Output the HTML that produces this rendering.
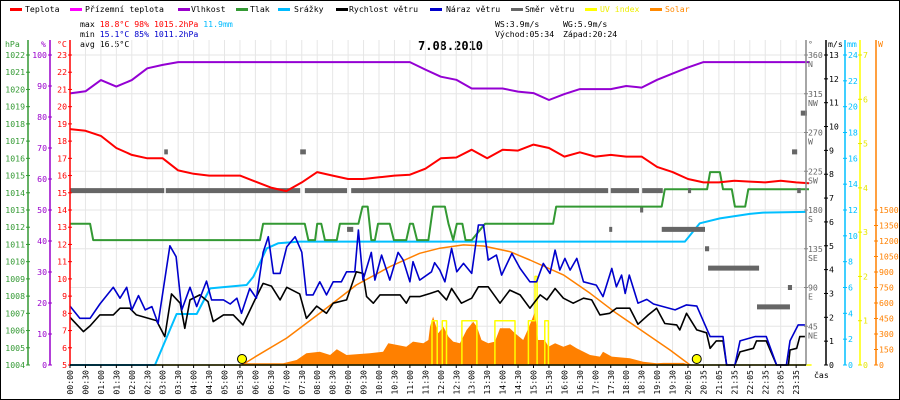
<!DOCTYPE html>
<html><head><meta charset="utf-8">
<style>
html,body{margin:0;padding:0;background:#fff;}
svg{display:block;font-family:"DejaVu Sans Mono","Liberation Mono",monospace;}
</style></head>
<body>
<svg id="chart" width="900" height="400" viewBox="0 0 900 400" xmlns="http://www.w3.org/2000/svg">
<rect x="0.5" y="0.5" width="899" height="399" fill="#fff" stroke="#000"/>
<g id="legend" font-size="8.2">
 <g><rect x="10" y="8" width="12" height="3" fill="#f00"/><text x="25" y="12">Teplota</text></g>
 <g><rect x="70" y="8" width="12" height="3" fill="#f0f"/><text x="85" y="12">Přízemní teplota</text></g>
 <g><rect x="178" y="8" width="12" height="3" fill="#90c"/><text x="191" y="12">Vlhkost</text></g>
 <g><rect x="236" y="8" width="12" height="3" fill="#393"/><text x="250" y="12">Tlak</text></g>
 <g><rect x="278" y="8" width="12" height="3" fill="#0bf"/><text x="294" y="12">Srážky</text></g>
 <g><rect x="336" y="8" width="12" height="3" fill="#000"/><text x="349" y="12">Rychlost větru</text></g>
 <g><rect x="430" y="8" width="12" height="3" fill="#00c"/><text x="446" y="12">Náraz větru</text></g>
 <g><rect x="511" y="8" width="12" height="3" fill="#666"/><text x="525" y="12">Směr větru</text></g>
 <g><rect x="585" y="8" width="12" height="3" fill="#ff0"/><text x="600" y="12" fill="#ee0">UV index</text></g>
 <g><rect x="650" y="8" width="12" height="3" fill="#f80"/><text x="665" y="12" fill="#f80">Solar</text></g>
</g>
<g id="stats" font-size="8.2">
 <text x="80" y="27">max <tspan fill="#f00">18.8°C  98%  1015.2hPa</tspan> <tspan fill="#0bf">11.9mm</tspan></text>
 <text x="80" y="37">min <tspan fill="#00c">15.1°C  85%  1011.2hPa</tspan></text>
 <text x="80" y="47">avg 16.5°C</text>
 <text x="495" y="27">WS:3.9m/s</text>
 <text x="563" y="27">WG:5.9m/s</text>
 <text x="495" y="37">Východ:05:34</text>
 <text x="563" y="37">Západ:20:24</text>
</g>
<text x="418" y="50" font-size="12" font-weight="bold">7.08.2010</text>
<g id="grid"></g>
<g id="marks"></g>
<g id="axes"></g>
</svg>
<script>
// ---- data ----
const tempVals=[18.7,18.6,18.3,17.6,17.2,17.0,17.0,16.3,16.1,16.0,16.0,16.0,15.65,15.3,15.1,15.6,16.2,16.0,15.8,15.8,15.9,16.0,16.05,16.4,17.0,17.05,17.5,17.0,17.5,17.45,17.8,17.6,17.1,17.35,17.1,17.2,17.1,17.1,16.5,16.2,15.8,15.6,15.6,15.7,15.65,15.6,15.7,15.6,15.55];
const humVals=[87.6,88.3,91.9,89.8,91.9,95.7,96.8,97.7,97.7,97.7,97.7,97.7,97.7,97.7,97.7,97.7,97.7,97.7,97.7,97.7,97.7,97.7,97.7,95.3,93,92,89.2,89.2,89.2,88.2,87.7,85.5,87.4,89,89,89,90,89.5,92,94,96,97.7,97.7,97.7,97.7,97.7,97.7,97.7,97.7];
const halfHourTimes=[0,30,60,90,120,150,180,210,240,270,300,330,360,390,420,450,480,510,540,570,600,630,660,690,720,750,780,810,840,870,900,930,960,990,1020,1050,1080,1110,1140,1170,1200,1230,1260,1290,1320,1350,1380,1410,1435];
const pressT=[0,39,45,369,375,456,463,476,480,488,495,518,524,560,568,578,585,592,598,621,629,653,660,666,674,696,705,728,735,744,751,762,768,780,806,938,944,1149,1155,1237,1243,1262,1268,1285,1291,1311,1317,1435];
const pressV=[1012.2,1012.2,1011.25,1011.25,1012.2,1012.2,1011.25,1011.25,1012.2,1012.2,1011.25,1011.25,1012.2,1012.2,1013.2,1013.2,1011.25,1011.25,1012.2,1012.2,1011.25,1011.25,1012.2,1012.2,1011.25,1011.25,1013.2,1013.2,1012.2,1011.25,1012.2,1012.2,1011.25,1011.25,1012.2,1012.2,1013.2,1013.2,1014.2,1014.2,1015.2,1015.2,1014.2,1014.2,1013.2,1013.2,1014.2,1014.2];
const rainT=[0,165,207,246,272,343,356,382,404,446,1194,1223,1262,1320,1346,1430];
const rainV=[0,0,3.95,3.95,5.93,6.19,6.83,9.03,9.42,9.55,9.55,10.97,11.35,11.7,11.8,11.85];
const gustT=[0,19,39,58,84,97,110,120,133,146,159,171,194,206,217,233,246,265,275,298,311,324,333,349,362,375,385,395,408,421,437,450,459,472,485,498,511,527,537,553,560,569,585,592,605,621,637,647,660,666,679,702,708,718,728,741,751,764,780,793,803,812,828,838,858,874,893,906,919,932,942,951,961,971,984,997,1022,1035,1052,1061,1071,1078,1086,1103,1120,1133,1175,1197,1217,1243,1268,1275,1291,1301,1330,1352,1372,1391,1398,1414,1427];
const gustV=[2.47,1.96,1.96,2.56,3.26,2.80,3.26,2.31,2.91,2.31,2.45,1.74,5.0,4.54,2.31,3.26,2.45,3.52,2.73,2.73,2.56,2.80,2.17,3.21,2.80,4.72,5.38,3.84,3.84,4.96,5.38,4.73,2.94,2.94,3.49,2.94,3.49,3.49,3.91,3.91,5.66,3.56,4.72,3.56,4.61,3.56,4.72,4.40,3.49,4.33,3.56,3.91,4.29,3.98,3.49,4.89,3.91,4.26,3.84,5.87,5.87,4.40,4.61,3.77,4.68,4.05,3.49,3.49,4.26,3.84,4.82,3.98,4.47,3.98,4.47,3.49,3.35,2.87,4.05,3.28,3.77,3.00,3.77,2.59,2.75,2.56,2.31,2.52,2.47,1.19,1.19,0,0,1.01,1.19,1.19,0,0,1.01,1.68,1.68];
const speedT=[0,26,39,58,84,97,116,129,168,184,197,214,223,233,252,268,278,298,317,336,359,375,391,408,421,446,459,479,498,511,537,556,569,576,589,602,641,653,660,679,699,715,731,741,760,780,793,812,835,854,874,893,913,926,942,958,977,997,1013,1029,1048,1061,1087,1103,1123,1139,1155,1178,1184,1197,1217,1236,1243,1255,1268,1275,1291,1301,1327,1333,1352,1372,1395,1398,1411,1417,1427];
const speedV=[2.0,1.40,1.64,2.10,2.10,2.38,2.38,2.10,1.86,1.19,2.98,2.59,1.54,2.73,2.94,2.66,1.82,2.10,2.10,1.68,2.73,3.42,3.31,2.73,3.26,2.98,1.96,2.47,2.17,2.59,2.73,3.91,3.84,2.87,2.59,2.94,2.94,2.59,2.87,2.87,3.00,3.11,2.73,3.21,2.59,2.80,3.28,3.28,2.59,3.14,2.94,2.38,2.94,2.73,3.21,2.80,2.59,2.80,2.73,2.10,2.17,2.38,2.38,1.71,2.10,2.38,1.74,1.68,1.47,2.17,1.47,1.35,0.70,1.01,1.01,0,0,0.55,0.70,1.01,1.01,0,0,0.63,0.70,1.19,1.19];
const dirStart=[0,183,186,447,456,538,546,1047,1050,1107,1111,1149,1233,1239,1334,1200,1394,1402,1412,1419];
const dirEnd=[183,190,447,458,538,550,1045,1052,1105,1113,1151,1233,1241,1338,1398,1206,1402,1412,1419,1431];
const dirDeg=[202.5,247.5,202.5,247.5,202.5,157.5,202.5,157.5,202.5,180,202.5,157.5,135,112.5,67.5,202.5,90,247.5,202.5,292.5];
const solarT=[340,414,440,459,485,505,518,537,582,608,618,653,666,686,696,699,705,715,725,735,744,757,770,783,790,799,812,825,835,854,864,880,890,903,909,922,929,942,958,971,984,1010,1029,1035,1052,1087,1113,1139,1152,1191,1204];
const solarW=[16,16,48,113,129,97,152,97,113,129,210,177,226,210,242,371,468,307,371,274,226,210,339,419,371,242,210,226,355,355,307,242,355,516,242,242,177,210,177,200,161,97,81,129,81,65,32,16,20,20,0];
const uvT=[0,703,713,723,731,761,790,825,864,890,903,907,922,929,1440];
const uvV=[0,1,0,1,0,1,0,1,0,1,2,0,1,0,0];
const sunT=[334,360,421,498,556,621,679,718,764,803,854,893,958,1010,1061,1113,1165,1204];
const sunW=[0,80,261,551,774,951,1081,1130,1162,1152,1097,1016,872,694,500,323,145,0];
const sunEvents=[334,1217];
const xLabels=["00:00","00:30","01:00","01:30","02:00","02:30","03:00","03:30","04:00","04:30","05:00","05:30","06:00","06:30","07:00","07:30","08:00","08:30","09:00","09:30","10:00","10:30","11:00","11:30","12:00","12:30","13:00","13:30","14:00","14:30","15:00","15:30","16:00","16:30","17:00","17:30","18:00","18:30","19:00","19:30","20:05","20:35","21:05","21:35","22:05","22:35","23:05","23:35"];
const hpaTicks=[1004,1005,1006,1007,1008,1009,1010,1011,1012,1013,1014,1015,1016,1017,1018,1019,1020,1021,1022];
const pctTicks=[0,10,20,30,40,50,60,70,80,90,100];
const cTicks=[5,6,7,8,9,10,11,12,13,14,15,16,17,18,19,20,21,22,23];
const degTicks=[45,90,135,180,225,270,315,360];
const degNames=["NE","E","SE","S","SW","W","NW","N"];
const msTicks=[0,1,2,3,4,5,6,7,8,9,10,11,12,13];
const mmTicks=[0,2,4,6,8,10,12,14,16,18,20,22,24];
const uvTicks=[0,1,2,3,4,5,6,7];
const wTicks=[0,150,300,450,600,750,900,1050,1200,1350,1500];

// ---- scales ----
const X0=70,X1=806,YT=55,YB=365;
const xT=t=>X0+t*0.515;
const yC=c=>YT+(23-c)*310/18;
const yH=h=>YT+(100-h)*3.1;
const yP=p=>YT+(1022-p)*310/18;
const yV=v=>YB-v*310/13;
const yMM=m=>YB-m*310/24;
const yUV=u=>YB-u*310/7;
const yW=w=>YB-w*155/1500;
const yD=d=>YB-d*310/360;

const NS="http://www.w3.org/2000/svg";
function mk(tag,attrs,parent){const e=document.createElementNS(NS,tag);for(const k in attrs)e.setAttribute(k,attrs[k]);parent.appendChild(e);return e;}
const grid=document.getElementById('grid'),marks=document.getElementById('marks'),axes=document.getElementById('axes');

// grid
for(let i=0;i<xLabels.length;i++){const x=X0+i*15.45;
 const l=mk('line',{x1:x,y1:40,x2:x,y2:YB,stroke:'#e6e6e6','stroke-width':1},grid);
 
 }
for(let i=0;i<=8;i++){const y=YT+i*310/8;
 const l=mk('line',{x1:X0,y1:y,x2:X1,y2:y,stroke:'#e6e6e6','stroke-width':1},grid);
 
 }

function poly(ts,vs,fx,fy,attrs,name){const pts=ts.map((t,i)=>fx(t).toFixed(1)+','+fy(vs[i]).toFixed(1)).join(' ');
 const p=mk('polyline',Object.assign({points:pts,fill:'none','stroke-linejoin':'round'},attrs),marks);
 
 return p;}
function stepPts(ts,vs){const t2=[],v2=[];for(let i=0;i<ts.length;i++){if(i>0){t2.push(ts[i]);v2.push(vs[i-1]);}t2.push(ts[i]);v2.push(vs[i]);}return [t2,v2];}

// solar area
{let d='M'+xT(solarT[0])+','+YB;solarT.forEach((t,i)=>{d+=' L'+xT(t).toFixed(1)+','+yW(solarW[i]).toFixed(1);});d+=' L'+xT(solarT[solarT.length-1])+','+YB+' Z';
 const a=mk('path',{d:d,fill:'#ff8000'},marks);
 
 }
// UV
{const [a,b]=stepPts(uvT,uvV);poly(a,b,xT,yUV,{stroke:'#ffff00','stroke-width':1.5},'uv-index-line');}
// sun curve
poly(sunT,sunW,xT,yW,{stroke:'#ff8000','stroke-width':1.5},'clear-sky-solar-curve');
// precip
poly(rainT,rainV,xT,yMM,{stroke:'#00bfff','stroke-width':2},'precipitation-line');
// pressure
poly(pressT,pressV,xT,yP,{stroke:'#339933','stroke-width':2},'pressure-line');
// wind direction
for(let i=0;i<dirDeg.length;i++){
 const r=mk('rect',{x:xT(dirStart[i]),y:yD(dirDeg[i])-2.5,width:Math.max(3,xT(dirEnd[i])-xT(dirStart[i])),height:5,fill:'#666'},marks);
 
 }
// humidity, temp
poly(halfHourTimes,humVals,xT,yH,{stroke:'#9400d3','stroke-width':2},'humidity-line');
poly(halfHourTimes,tempVals,xT,yC,{stroke:'#ff0000','stroke-width':2},'temperature-line');
// wind
poly(speedT,speedV,xT,yV,{stroke:'#000','stroke-width':1.6},'wind-speed-line');
poly(gustT,gustV,xT,yV,{stroke:'#0000cc','stroke-width':1.6},'wind-gust-line');
// sunrise/sunset markers
sunEvents.forEach((t,i)=>{const c=mk('circle',{cx:xT(t),cy:359,r:4.5,fill:'#ffff00',stroke:'#000','stroke-width':1},marks);
 
 });

// ---- axes ----
function vaxis(x,color,name){const l=mk('line',{x1:x,y1:40,x2:x,y2:YB,stroke:color,'stroke-width':1.5},axes);
 
 }
function txt(x,y,s,color,anchor,name){const t=mk('text',{x:x,y:y,fill:color,'font-size':8.2,'text-anchor':anchor||'start'},axes);t.textContent=s;
 
 return t;}
function ticks(x,vals,fy,color,side,name){vals.forEach(v=>{const y=fy(v);
 mk('line',{x1:x-2,y1:y,x2:x+2,y2:y,stroke:color,'stroke-width':1},axes);
 if(side==='l')txt(x-3,y+3,String(v),color,'end',name);else txt(x+3,y+3,String(v),color,'start',name);});}

vaxis(28,'#339933','hpa-axis');ticks(28,hpaTicks,yP,'#339933','l','hpa-tick-label');txt(5,47,'hPa','#339933','start','hpa-axis-title');
vaxis(50,'#9900cc','humidity-axis');ticks(50,pctTicks,yH,'#9900cc','l','humidity-tick-label');txt(41,47,'%','#9900cc','start','humidity-axis-title');
vaxis(70,'#ff0000','temperature-axis');ticks(70,cTicks,yC,'#ff0000','l','temperature-tick-label');txt(57,47,'°C','#ff0000','start','temperature-axis-title');
vaxis(806,'#888','direction-axis');txt(808,47,'°','#666','start','direction-axis-title');
degTicks.forEach((d,i)=>{const y=yD(d);mk('line',{x1:804,y1:y,x2:808,y2:y,stroke:'#888'},axes);txt(808,y+3,String(d),'#666','start','direction-tick-label');txt(808,y+12,degNames[i],'#666','start','direction-name-label');});
vaxis(826,'#000','wind-speed-axis');ticks(826,msTicks,yV,'#000','r','wind-speed-tick-label');txt(828,47,'m/s','#000','start','wind-speed-axis-title');
vaxis(845,'#00bfff','precipitation-axis');ticks(845,mmTicks,yMM,'#00bfff','r','precipitation-tick-label');txt(847,47,'mm','#00bfff','start','precipitation-axis-title');
vaxis(860,'#ffff00','uv-axis');ticks(860,uvTicks,yUV,'#e6e600','r','uv-tick-label');
vaxis(876,'#ff8000','solar-axis');ticks(876,wTicks,yW,'#ff8000','r','solar-tick-label');txt(878,47,'W','#ff8000','start','solar-axis-title');
{const l=mk('line',{x1:X0,y1:YB,x2:X1,y2:YB,stroke:'#000','stroke-width':1.5},axes);
 
 }
xLabels.forEach((s,i)=>{const x=X0+i*15.45;
 mk('line',{x1:x,y1:YB,x2:x,y2:YB+3,stroke:'#000'},axes);
 const t=mk('text',{x:0,y:0,'font-size':8.2,'text-anchor':'end',transform:'translate('+(x+3)+','+(YB+5)+') rotate(-90)'},axes);t.textContent=s;
 
 });
txt(814,378,'čas','#000','start','x-axis-title');
</script>
</body></html>
